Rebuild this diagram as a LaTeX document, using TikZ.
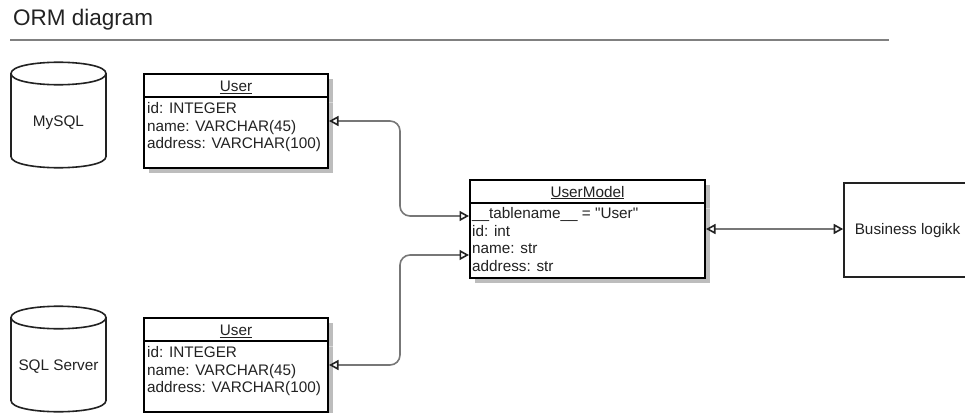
\documentclass[tikz,border=0pt]{standalone}
\usepackage{fontspec}
\setmainfont[Ligatures=TeXOff]{Liberation Sans}
\usetikzlibrary{arrows.meta}
\definecolor{ink}{HTML}{222222}
\definecolor{linkgray}{HTML}{777777}
\definecolor{shadowgray}{HTML}{BDBDBD}
\tikzset{
  x=1pt,y=-1pt,
  tablebox/.style={draw=black,line width=2pt,fill=white,inner sep=0pt},
  tabshadow/.style={fill=shadowgray,draw=none},
  headline/.style={draw=black,line width=1.6pt},
  head/.style={inner sep=0pt,anchor=base,text=ink,font=\fontsize{15.3}{18}\selectfont},
  body/.style={inner sep=0pt,anchor=north west,align=left,text=ink,font=\fontsize{15.3}{17.8}\selectfont},
  label/.style={inner sep=0pt,anchor=base,text=ink,font=\fontsize{15.3}{18}\selectfont},
  cyl/.style={draw=ink,line width=1.6pt,fill=white},
  link/.style={draw=linkgray,line width=1.6pt,rounded corners=10pt,
    {Triangle[open,length=9.5pt,width=10pt,line width=1.6pt,color=ink,fill=white]}-{Triangle[open,length=9.5pt,width=10pt,line width=1.6pt,color=ink,fill=white]}},
}
\newcommand{\cylshape}[2]{%
  \draw[cyl] (11,#1+11.5) .. controls (11,#1-3.5) and (106,#1-3.5) .. (106,#1+11.5)
    -- (106,#1+94.5) .. controls (106,#1+109.5) and (11,#1+109.5) .. (11,#1+94.5) -- cycle;
  \draw[cyl] (11,#1+11.5) .. controls (11,#1+26.5) and (106,#1+26.5) .. (106,#1+11.5);
}
\begin{document}
\begin{tikzpicture}
\useasboundingbox (0,0) rectangle (965,412);
\clip (0,0) rectangle (965,412);

\node[inner sep=0pt,anchor=base west,text=ink,font=\fontsize{22.5}{26}\selectfont] (title) at (13,25.5) {ORM diagram};
\coordinate (ruleL) at (10,40);
\coordinate (ruleR) at (889,40);
\draw[draw=gray,line width=1.5pt] (ruleL) -- (ruleR);

% cylinders
\cylshape{62}{}
\node[label] (mysql) at (58.5,126.5) {MySQL};
\cylshape{306}{}
\node[label] (sqlserver) at (58.5,370) {SQL Server};

% User 1
\fill[tabshadow] (149,79) rectangle (333,173);
\node[tablebox,minimum width=184pt,minimum height=94pt] (user1) at (236,121) {};
\draw[headline] (user1.west |- 0,97) -- (user1.east |- 0,97);
\draw[draw=shadowgray!60,line width=1pt] (329,102.5) -- (333,102.5);
\node[head] (user1h) at (236,91.5) {\underline{User}};
\node[body] (user1b) at (147,102) {id: INTEGER\\name: VARCHAR(45)\\address: VARCHAR(100)};

% User 2
\fill[tabshadow] (149,323) rectangle (333,417);
\node[tablebox,minimum width=184pt,minimum height=94pt] (user2) at (236,365) {};
\draw[headline] (user2.west |- 0,341) -- (user2.east |- 0,341);
\draw[draw=shadowgray!60,line width=1pt] (329,346.5) -- (333,346.5);
\node[head] (user2h) at (236,335.5) {\underline{User}};
\node[body] (user2b) at (147,346) {id: INTEGER\\name: VARCHAR(45)\\address: VARCHAR(100)};

% UserModel
\fill[tabshadow] (475,185) rectangle (710,283);
\node[tablebox,minimum width=235pt,minimum height=98pt] (model) at (587.5,229) {};
\draw[headline] (model.west |- 0,203) -- (model.east |- 0,203);
\draw[draw=shadowgray!60,line width=1pt] (706,208) -- (710,208);
\node[head] (modelh) at (587.5,197) {\underline{UserModel}};
\node[body] (modelb) at (472,207) {\_\_tablename\_\_ = "User"\\id: int\\name: str\\address: str};

% Business logic
\node[draw=ink,line width=1.6pt,fill=white,minimum width=140pt,minimum height=94pt,inner sep=0pt] (biz) at (914,230) {};
\node[label] (bizt) at (907.5,234.5) {Business logikk};

% connectors
\coordinate (mIn1) at (model.west |- 0,216);
\coordinate (mIn2) at (model.west |- 0,255);
\draw[link] (user1.east) -- (400,121) -- (400,216) -- (mIn1);
\draw[link] (user2.east) -- (400,365) -- (400,255) -- (mIn2);
\draw[link] (model.east) -- (biz.west |- model.east);
\end{tikzpicture}
\end{document}
